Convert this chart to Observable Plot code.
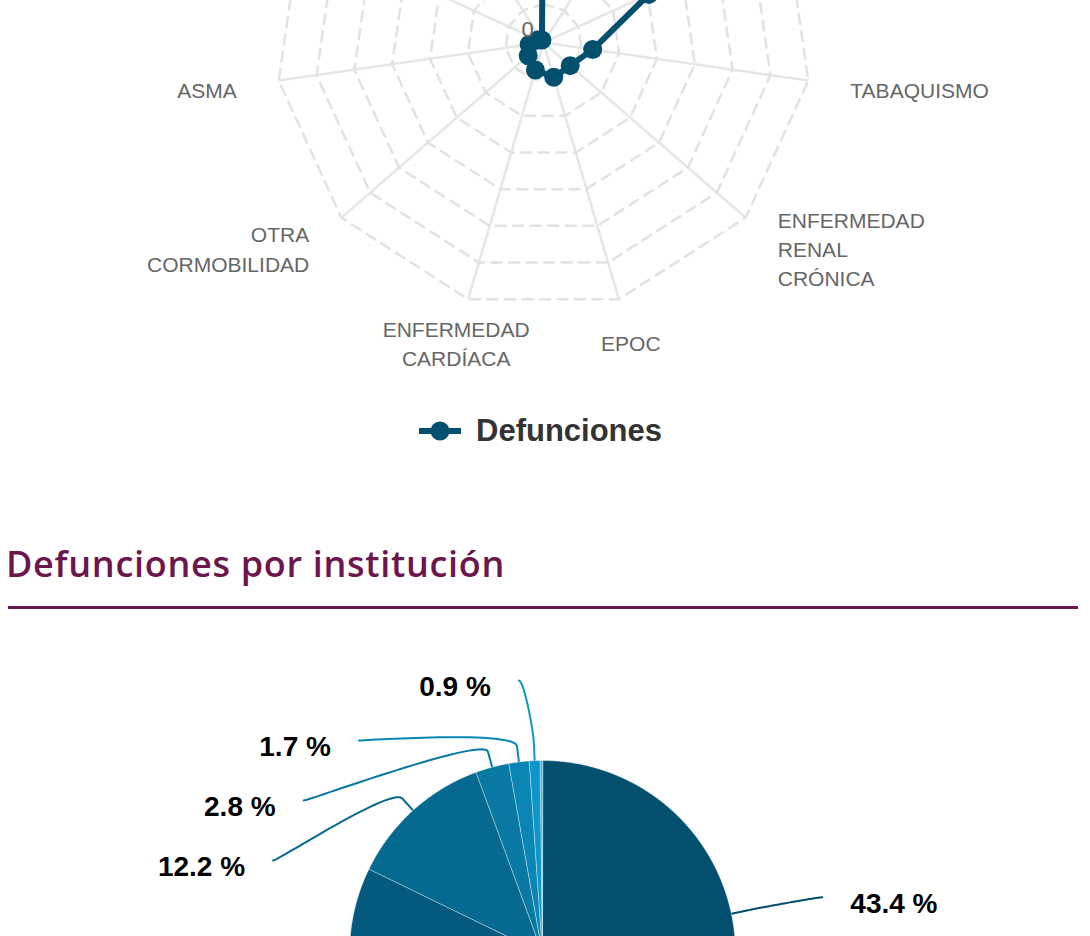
<!DOCTYPE html>
<html lang="es">
<head>
<meta charset="utf-8">
<script src="https://cdn.jsdelivr.net/npm/d3@7"></script>
<script src="https://cdn.jsdelivr.net/npm/@observablehq/plot@0.6"></script>
<style>
  html, body { margin:0; padding:0; width:1090px; height:936px; overflow:hidden; background:#fff; }
  #page { position:relative; width:1090px; height:936px; overflow:hidden; }
  #radar { position:absolute; left:0; top:-338px; }
  #legend { position:absolute; left:419px; top:413px; height:36px; display:flex; align-items:center;
            font-family:"Liberation Sans", Arial, sans-serif; font-weight:bold; font-size:31px; line-height:36px; color:#333; white-space:nowrap; }
  #legend svg { margin-right:15px; }
  #title { position:absolute; left:6px; top:546px; font-family:"Open Sans", "Noto Sans", sans-serif; font-weight:600;
           font-size:36px; line-height:36px; letter-spacing:0.7px; color:#6b164c; white-space:nowrap; }
  #rule { position:absolute; left:8px; top:606px; width:1070px; height:3px; background:#6b164c; }
  #pie { position:absolute; left:0; top:633px; }
</style>
</head>
<body>
<div id="page">
  <div id="radar"></div>
  <div id="legend"></div>
  <div id="title">Defunciones por institución</div>
  <div id="rule"></div>
  <div id="pie"></div>
</div>
<script>
// ---------------- DATA ----------------
const radarCategories = ["HIPERTENSIÓN", "DIABETES", "OBESIDAD", "TABAQUISMO", "ENFERMEDAD\nRENAL\nCRÓNICA",
  "EPOC", "ENFERMEDAD\nCARDÍACA", "OTRA\nCORMOBILIDAD", "ASMA", "INMUNOSUPRESIÓN", "VIH"];
const radarValues = [11500, 9800, 6060, 2600, 1850, 1900, 1500, 1060, 760, 330, 150];
const radarTicks = [0, 2000, 4000, 6000, 8000, 10000, 12000, 14000];
const seriesName = "Defunciones";

const pieInstitutions = ["IMSS", "SSA", "ISSSTE", "PRIVADA", "PEMEX", "SEDENA", "SEMAR"];
const piePercents = [43.4, 38.8, 12.2, 2.8, 1.7, 0.9, 0.2];

// ---------------- STYLE ----------------
const SERIES_COLOR = "#024f6e";
const pieColors = ["#024f6e", "#035a7e", "#066990", "#0879a3", "#0b86b4", "#0d97c8", "#3fb4e2"];
const FONT = "'Liberation Sans', Arial, sans-serif";

// ---------------- RADAR ----------------
const N = radarCategories.length;
const RADAR_PX = 267.5, DEG_PER_PX = 0.1, FRAME_R = 380, LABEL_PX = 310;
const maxTick = d3.max(radarTicks);
const angleOf = i => i * 360 / N;
const lonOf = i => 180 - angleOf(i);
const latOfPx = px => 90 - px * DEG_PER_PX;
const latOf = v => latOfPx(v / maxTick * RADAR_PX);
const radarData = radarCategories.map((cat, i) => ({cat, i, v: radarValues[i]}));
const gridData = radarTicks.slice(1).flatMap(t => radarCategories.map((c, i) => ({t, i})));
const anchorOf = i => {
  const s = Math.sin(angleOf(i) * Math.PI / 180);
  return s > 0.35 ? "start" : s < -0.35 ? "end" : "middle";
};
const tickFmt = d => d === 0 ? "0" : (d / 1000) + "k";

const radar = Plot.plot({
  width: 1090, height: 2 * FRAME_R,
  marginTop: 0, marginBottom: 0, marginLeft: 0, marginRight: 4,
  projection: {
    type: "azimuthal-equidistant", rotate: [0, -90],
    domain: {type: "MultiPoint", coordinates: [0, 90, 180, -90].map(l => [l, latOfPx(FRAME_R)])}
  },
  style: {fontFamily: FONT, fontSize: "21px", color: "#666", background: "transparent", overflow: "visible"},
  marks: [
    Plot.link(radarData, {x1: d => lonOf(d.i), y1: 90, x2: d => lonOf(d.i), y2: latOf(maxTick),
      stroke: "#e6e6e6", strokeWidth: 2.5}),
    Plot.line(gridData, {x: d => lonOf(d.i), y: d => latOf(d.t), z: "t", curve: "linear-closed",
      stroke: "#e2e2e2", strokeWidth: 2.5, strokeDasharray: "10,7.5"}),
    Plot.line(radarData, {x: d => lonOf(d.i), y: d => latOf(d.v), curve: "linear-closed",
      stroke: SERIES_COLOR, strokeWidth: 6, strokeLinejoin: "round"}),
    Plot.dot(radarData, {x: d => lonOf(d.i), y: d => latOf(d.v), r: 9.5, fill: SERIES_COLOR}),
    ...["start", "middle", "end"].map(a => Plot.text(radarData.filter(d => anchorOf(d.i) === a), {
      x: d => lonOf(d.i), y: latOfPx(LABEL_PX), text: "cat", textAnchor: a, lineAnchor: "middle",
      lineHeight: 1.4, dy: 2, fontSize: 21, fill: "#666", fontFamily: FONT})),
    Plot.text(radarTicks, {x: 180, y: d => latOf(d), text: tickFmt, dx: -16, dy: -13,
      fontSize: 22, fill: "#666", fontFamily: FONT})
  ]
});
document.getElementById("radar").appendChild(radar);

// legend
const legend = document.getElementById("legend");
legend.innerHTML = `<svg width="42" height="22" viewBox="0 0 42 22"><line x1="0" x2="42" y1="11" y2="11" stroke="${SERIES_COLOR}" stroke-width="6"/><circle cx="21" cy="11" r="9.5" fill="${SERIES_COLOR}"/></svg><span>${seriesName}</span>`;

// ---------------- PIE ----------------
const PIE_R = 193, PIE_LABEL_R = 273.2, PIE_PAD = 12.5, PIE_GAP = 60, PIE_BREAK = 16, PIE_FRAME_R = 320;
const pieData = pieInstitutions.map((name, i) => ({name, value: piePercents[i], color: pieColors[i]}));
const arcs = d3.pie().sort(null).value(d => d.value)(pieData);
const toGeo = (sx, sy) => {
  const r = Math.hypot(sx, sy);
  if (r === 0) return [0, 90];
  const th = Math.atan2(sx, -sy) * 180 / Math.PI;
  return [180 - th, 90 - r * DEG_PER_PX];
};
const polar = (a, r) => [r * Math.sin(a), -r * Math.cos(a)];

const sliceFeatures = arcs.map(a => {
  const n = Math.max(2, Math.ceil((a.endAngle - a.startAngle) / (Math.PI / 360)));
  const ring = [[0, 90]];
  for (let k = 0; k <= n; k++) {
    const t = a.startAngle + (a.endAngle - a.startAngle) * k / n;
    ring.push(toGeo(...polar(t, PIE_R)));
  }
  ring.push([0, 90]);
  return {type: "Feature", properties: {color: a.data.color, name: a.data.name},
          geometry: {type: "Polygon", coordinates: [ring]}};
});

const labelled = arcs.filter(a => a.data.value >= 0.5).map(a => {
  const mid = (a.startAngle + a.endAngle) / 2;
  return {a, mid, side: mid > Math.PI ? -1 : 1};
});
for (const s of [-1, 1]) {
  const group = labelled.filter(d => d.side === s);
  group.forEach(d => d.ly = -PIE_LABEL_R * Math.cos(d.mid));
  group.sort((p, q) => p.ly - q.ly);
  let prev = -Infinity;
  group.forEach(d => {
    d.ly = Math.max(d.ly, -PIE_LABEL_R, prev + PIE_GAP);
    prev = d.ly;
    d.lx = s * (Math.sqrt(Math.max(0, PIE_LABEL_R ** 2 - d.ly ** 2)) + PIE_PAD);
    const g = toGeo(d.lx, d.ly);
    d.lon = g[0]; d.lat = g[1];
  });
}
const connectors = labelled.flatMap((d, j) => {
  const [bx, by] = polar(d.mid, PIE_R + PIE_BREAK);
  const [tx, ty] = polar(d.mid, PIE_R);
  const p0 = [d.lx, d.ly], p1 = [d.lx - d.side * 5, d.ly], p2 = [2 * bx - tx, 2 * by - ty], p3 = [bx, by];
  const pts = [];
  for (let k = 0; k <= 30; k++) {
    const t = k / 30, u = 1 - t;
    const bz = c => u * u * u * p0[c] + 3 * u * u * t * p1[c] + 3 * u * t * t * p2[c] + t * t * t * p3[c];
    pts.push([bz(0), bz(1)]);
  }
  pts.push([tx, ty]);
  return pts.map(([x, y]) => { const [lon, lat] = toGeo(x, y); return {id: j, lon, lat, color: d.a.data.color}; });
});
const pctFmt = d => d3.format(".1f")(d.a.data.value) + " %";

const pie = Plot.plot({
  width: 1090, height: 2 * PIE_FRAME_R,
  marginTop: 0, marginBottom: 0, marginLeft: 0, marginRight: 6,
  projection: {
    type: "azimuthal-equidistant", rotate: [0, -90],
    domain: {type: "MultiPoint", coordinates: [0, 90, 180, -90].map(l => [l, 90 - PIE_FRAME_R * DEG_PER_PX])}
  },
  style: {fontFamily: FONT, background: "transparent", overflow: "visible"},
  marks: [
    Plot.line(connectors, {x: "lon", y: "lat", z: "id", stroke: "color", strokeWidth: 2, curve: "linear"}),
    Plot.geo(sliceFeatures, {fill: d => d.properties.color, stroke: "#ffffff", strokeWidth: 1, strokeOpacity: 0.4}),
    Plot.text(labelled.filter(d => d.side < 0), {x: "lon", y: "lat", text: pctFmt, textAnchor: "end", dx: -28, dy: 7,
      fontSize: 28, fontWeight: "bold", fill: "#000", fontFamily: FONT}),
    Plot.text(labelled.filter(d => d.side > 0), {x: "lon", y: "lat", text: pctFmt, textAnchor: "start", dx: 28, dy: 7,
      fontSize: 28, fontWeight: "bold", fill: "#000", fontFamily: FONT})
  ]
});
document.getElementById("pie").appendChild(pie);
</script>
</body>
</html>
